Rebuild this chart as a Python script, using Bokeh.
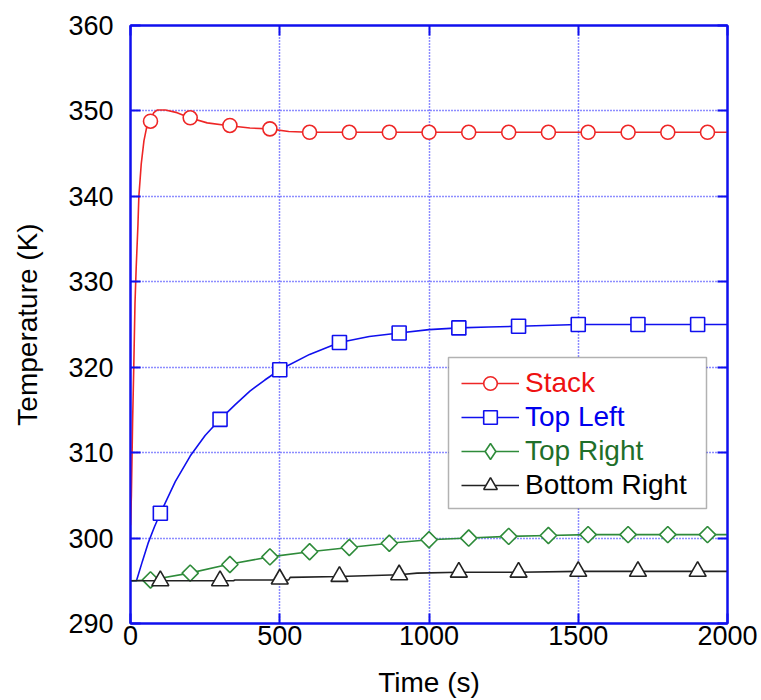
import numpy as np
from bokeh.plotting import figure
from bokeh.models import (Range1d, LinearAxis, SingleIntervalTicker, Legend, LegendItem,
                          BoxAnnotation, CustomJSTickFormatter)
from bokeh.embed import file_html
from bokeh.resources import INLINE

# ---------------- data ----------------
stack_line_t = [0, 3, 7, 11, 15, 19, 25, 28, 36, 45, 56, 65, 78, 89, 117, 156, 198, 257, 324,
                400, 466, 530, 597, 700, 1000, 1500, 2000]
stack_line_T = [301.5, 305.0, 313.5, 320.1, 327.4, 331.6, 336.7, 340.0, 343.8, 346.5, 348.4, 348.8,
                349.8, 350.1, 350.1, 349.8, 349.2, 348.6, 348.3, 348.0, 347.9, 347.6, 347.5, 347.5,
                347.5, 347.5, 347.5]
stack_mark_t = [67, 200, 333, 467, 600, 733, 867, 1000, 1133, 1267, 1400, 1533, 1667, 1800, 1933]
stack_mark_T = [348.8, 349.2, 348.3, 347.9, 347.5, 347.5, 347.5, 347.5, 347.5, 347.5, 347.5,
                347.5, 347.5, 347.5, 347.5]

tl_line_t = [0, 20, 40, 60, 80, 100, 150, 200, 250, 300, 350, 400, 450, 500, 600, 700, 800,
             900, 1000, 1100, 1200, 1300, 1500, 2000]
tl_line_T = [295.0, 295.0, 297.3, 299.5, 301.3, 302.9, 306.6, 309.6, 312.0, 313.9, 315.6, 317.2,
             318.5, 319.7, 321.5, 322.9, 323.6, 324.0, 324.4, 324.6, 324.7, 324.8, 325.0, 325.0]
tl_mark_t = [100, 300, 500, 700, 900, 1100, 1300, 1500, 1700, 1900]
tl_mark_T = [302.9, 313.9, 319.7, 322.9, 324.0, 324.6, 324.8, 325.0, 325.0, 325.0]

tr_line_t = [0, 65, 100, 198, 326, 466, 600, 733, 866, 1000, 1133, 1267, 1400, 1534, 1667,
             1800, 1933, 2000]
tr_line_T = [295.0, 295.1, 295.3, 295.9, 296.9, 297.8, 298.4, 298.9, 299.4, 299.8, 300.0, 300.2,
             300.3, 300.4, 300.4, 300.4, 300.4, 300.4]
tr_mark_t = [67, 200, 333, 467, 600, 733, 867, 1000, 1133, 1267, 1400, 1533, 1667, 1800, 1933]
tr_mark_T = [295.1, 295.9, 296.9, 297.8, 298.4, 298.9, 299.4, 299.8, 300.0, 300.2, 300.3,
             300.4, 300.4, 300.4, 300.4]

br_line_t = [0, 345, 350, 530, 535, 700, 900, 960, 1100, 1300, 1500, 2000]
br_line_T = [295.0, 295.0, 295.1, 295.1, 295.4, 295.5, 295.7, 295.9, 296.0, 296.0, 296.1, 296.1]
br_mark_t = [100, 300, 500, 700, 900, 1100, 1300, 1500, 1700, 1900]
br_mark_T = [295.0, 295.0, 295.2, 295.5, 295.7, 296.0, 296.0, 296.1, 296.1, 296.1]

series_names = ["Stack", "Top Left", "Top Right", "Bottom Right"]
x_ticks_interval = 500
y_ticks_interval = 10

# ---------------- styles ----------------
FONT = "Liberation Sans"
BLUE = "#1010EE"
line_colors = ["#EE2626", "#1010EE", "#2E8B3A", "#222222"]
text_colors = ["#EE1111", "#0000EE", "#1F6F2A", "#000000"]

p = figure(width=761, height=700, output_backend="svg", toolbar_location=None,
           x_range=Range1d(0, 2000), y_range=Range1d(290, 360),
           x_axis_location=None, y_axis_location=None,
           min_border_left=130, min_border_right=34, min_border_top=25, min_border_bottom=77)
p.outline_line_color = BLUE
p.outline_line_width = 2
p.background_fill_color = "white"
p.border_fill_color = "white"

xt = SingleIntervalTicker(interval=x_ticks_interval, num_minor_ticks=0)
yt = SingleIntervalTicker(interval=y_ticks_interval, num_minor_ticks=0)

blank = CustomJSTickFormatter(code="return ''")

def style_axis(ax):
    ax.axis_line_color = BLUE
    ax.axis_line_width = 2
    ax.major_tick_line_color = BLUE
    ax.major_tick_line_width = 2
    ax.major_tick_in = 10
    ax.major_tick_out = 0
    ax.minor_tick_line_color = None
    ax.major_label_text_font = FONT
    ax.major_label_text_font_size = "27px"
    ax.major_label_text_color = "black"
    ax.axis_label_text_font = FONT
    ax.axis_label_text_font_size = "28px"
    ax.axis_label_text_font_style = "normal"
    ax.axis_label_text_color = "black"

xb = LinearAxis(ticker=xt, axis_label="Time (s)")
style_axis(xb)
xb.major_label_standoff = 2
xb.axis_label_standoff = 19
p.add_layout(xb, "below")

yl = LinearAxis(ticker=yt, axis_label="Temperature (K)")
style_axis(yl)
yl.major_label_standoff = 17
yl.axis_label_standoff = 22
p.add_layout(yl, "left")

xa = LinearAxis(ticker=xt, formatter=blank)
style_axis(xa)
xa.major_label_text_font_size = "1px"
xa.major_label_standoff = 0
p.add_layout(xa, "above")

yr = LinearAxis(ticker=yt, formatter=blank)
style_axis(yr)
yr.major_label_text_font_size = "1px"
yr.major_label_standoff = 0
p.add_layout(yr, "right")

p.xgrid.ticker = xt
p.ygrid.ticker = yt
for g in (p.xgrid, p.ygrid):
    g.grid_line_color = "#1A1AFF"
    g.grid_line_width = 1.5
    g.grid_line_dash = "1 2"

# ---------------- glyphs ----------------
lines = [(stack_line_t, stack_line_T), (tl_line_t, tl_line_T),
         (tr_line_t, tr_line_T), (br_line_t, br_line_T)]
marks = [(stack_mark_t, stack_mark_T), (tl_mark_t, tl_mark_T),
         (tr_mark_t, tr_mark_T), (br_mark_t, br_mark_T)]
marker_specs = [("circle", 14, 0.0), ("square", 14, 0.0), ("square", 11.5, np.pi / 4),
                ("triangle", 17, 0.0)]

renderer_sets = []
for (lt, lT), (mt, mT), (mk, sz, ang), c in zip(lines, marks, marker_specs, line_colors):
    lr = p.line(lt, lT, line_color=c, line_width=1.6)
    sr = p.scatter(mt, mT, marker=mk, size=sz, angle=ang, fill_color="white",
                   line_color=c, line_width=1.6)
    renderer_sets.append([lr, sr])

# legend swatch for the diamond series (legend swatches are always drawn unrotated);
# a single NaN point so that nothing is drawn in the plot area
diamond_swatch = p.scatter([np.nan], [np.nan], marker="diamond", size=16, fill_color="white",
                           line_color=line_colors[2], line_width=1.6)
renderer_sets[2] = [renderer_sets[2][0], diamond_swatch]

# ---------------- legend ----------------
box = BoxAnnotation(left=318, right=576, bottom=115, top=266,
                    left_units="screen", right_units="screen",
                    bottom_units="screen", top_units="screen",
                    fill_color="white", fill_alpha=1.0, line_color="black", line_width=1.5)
p.add_layout(box)

glyph_heights = [34, 34, 40, 34]
for i, (name, rs, tc, gh) in enumerate(zip(series_names, renderer_sets, text_colors, glyph_heights)):
    lg = Legend(items=[LegendItem(label=name, renderers=rs)],
                location=(331, 223 - 34 * i - (gh - 34) // 2),
                border_line_color=None, background_fill_alpha=0.0,
                padding=0, margin=0, spacing=0,
                glyph_width=58, glyph_height=gh, label_height=gh,
                label_standoff=6, label_text_font=FONT, label_text_font_size="28px",
                label_text_color=tc)
    p.add_layout(lg, "center")

open("out.html", "w").write(file_html(p, INLINE))
